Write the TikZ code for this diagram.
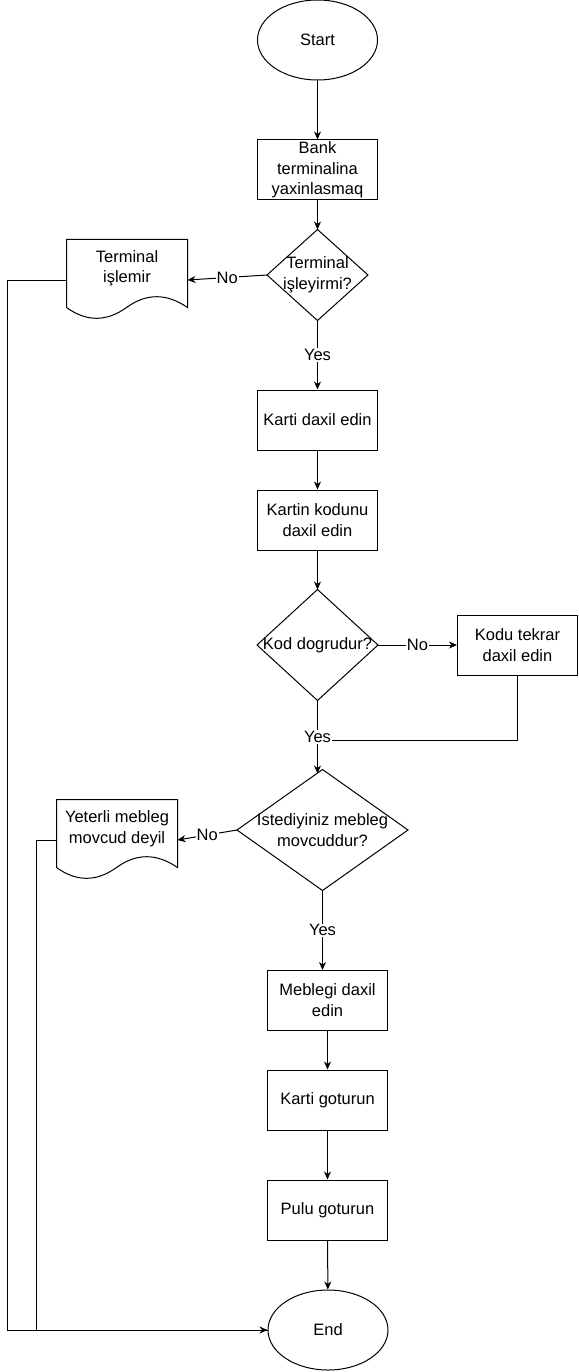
\documentclass[tikz,border=0pt]{standalone}
\usepackage{fontspec}
\setmainfont{Liberation Sans}
\usetikzlibrary{shapes.geometric,arrows.meta,calc}
\newcommand{\docpath}[1]{%
  \draw ($(#1.north west)$) -- ($(#1.north east)$) -- ($(#1.north east)+(0,68)$)
    .. controls ($(#1.north west)+(100,53.6)$) and ($(#1.north west)+(80,53.6)$) .. ($(#1.north west)+(60,68)$)
    .. controls ($(#1.north west)+(40,82.4)$) and ($(#1.north west)+(20,82.4)$) .. ($(#1.north west)+(0,68)$) -- cycle;}
\newcommand{\diapath}[1]{%
  \draw (#1.north) -- (#1.east) -- (#1.south) -- (#1.west) -- cycle;}
\begin{document}
\begin{tikzpicture}[x=1pt,y=-1pt,
  font=\fontsize{16.5}{20.5}\selectfont,
  line width=1pt,
  proc/.style={draw, rectangle, minimum width=120pt, minimum height=60pt, align=center, inner sep=1pt},
  term/.style={draw, ellipse, minimum width=120pt, minimum height=80pt, inner sep=0pt},
  decnode/.style={rectangle, draw=none, inner sep=0pt, align=center},
  docnode/.style={rectangle, draw=none, inner sep=0pt, minimum width=120pt, minimum height=80pt},
  doctext/.style={label={[align=center, yshift=11.5pt]center:#1}},
  arr/.style={-{Stealth[length=8pt,width=7pt,inset=2.5pt]}},
  lab/.style={fill=white, inner sep=1pt}
]
\useasboundingbox (0,0) rectangle (578,1372);

\node[term] (start) at (317.5,40) {Start};
\node[proc] (bank) at (317.5,170) {Bank\\terminalina\\yaxinlasmaq};
\node[decnode, minimum width=100pt, minimum height=90pt] (d1) at (317.5,275) {Terminal\\işleyirmi?};
\diapath{d1}
\node[docnode, doctext={Terminal\\işlemir}] (doc1) at (127,280) {};
\docpath{doc1}
\node[proc] (karti) at (317.5,420) {Karti daxil edin};
\node[proc] (kartin) at (317.5,520) {Kartin kodunu\\daxil edin};
\node[decnode, minimum width=120pt, minimum height=110pt] (kod) at (317.5,645) {Kod dogrudur?};
\diapath{kod}
\node[proc] (kodu) at (517.5,645) {Kodu tekrar\\daxil edin};
\node[decnode, minimum width=170pt, minimum height=120pt] (ist) at (322.5,830) {Istediyiniz mebleg\\movcuddur?};
\diapath{ist}
\node[docnode, doctext={Yeterli mebleg\\movcud deyil}] (doc2) at (117,840) {};
\docpath{doc2}
\node[proc] (mebleg) at (327.5,1000) {Meblegi daxil\\edin};
\node[proc] (kgot) at (327.5,1100) {Karti goturun};
\node[proc] (pulu) at (327.5,1210) {Pulu goturun};
\node[term] (end) at (328,1330) {End};

\coordinate (kodjoin) at (317.5,740);
\coordinate (kodhit) at (317.5,773.5);
\coordinate (isthit) at (322.5,970);

\draw[arr] (start) -- (bank);
\draw[arr] (bank) -- (d1.north);
\draw[arr] (d1.west) -- node[lab]{No} (doc1.east);
\draw[arr] (d1.south) -- node[lab]{Yes} (karti);
\draw[arr] (karti) -- (kartin);
\draw[arr] (kartin) -- (kod.north);
\draw[arr] (kod.east) -- node[lab]{No} (kodu.west);
\draw (kodu.south) |- (kodjoin);
\draw[arr] (kod.south) -- node[lab]{Yes} (kodhit);
\draw[arr] (ist.west) -- node[lab]{No} (doc2.east);
\draw[arr] (ist.south) -- node[lab]{Yes} (isthit);
\draw[arr] (mebleg) -- (kgot);
\draw[arr] (kgot) -- (pulu);
\draw[arr] (pulu) -- (end);
\draw[arr] (doc1.west) -- ++(-59,0) |- (end.west);
\draw (doc2.west) -- ++(-20,0) |- (end.west);
\end{tikzpicture}
\end{document}
